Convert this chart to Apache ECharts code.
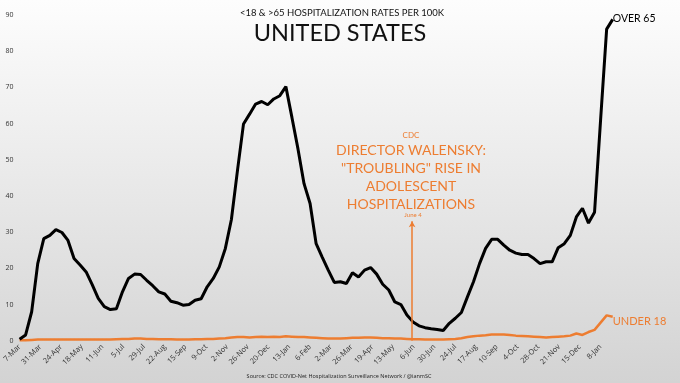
<!DOCTYPE html>
<html><head><meta charset="utf-8">
<script src="https://cdn.jsdelivr.net/npm/echarts@6/dist/echarts.min.js"></script>
<style>html,body{margin:0;padding:0;background:#fff;}#c{width:680px;height:383px;}</style>
</head><body><div id="c"></div>
<script>
// Weekly rates per 100K, weeks ending Saturday, starting 7-Mar-2020
const weekDays = 7;
const over65 = [
  0.4, 1.6, 8.0, 21.3, 28.2, 29.1, 30.7, 29.9, 27.7, 22.7,
  20.9, 19.0, 15.5, 11.7, 9.4, 8.6, 8.8, 13.5, 17.2, 18.4,
  18.3, 16.7, 15.2, 13.5, 12.9, 10.9, 10.5, 9.8, 10.0, 11.2,
  11.6, 14.9, 17.2, 20.4, 25.5, 33.5, 47.0, 59.9, 62.6, 65.4,
  66.1, 65.2, 66.8, 67.7, 70.2, 61.7, 53.0, 43.4, 37.9, 26.8,
  23.1, 19.5, 16.1, 16.3, 15.8, 18.8, 17.6, 19.5, 20.2, 18.4,
  15.6, 14.0, 10.7, 10.0, 7.1, 5.2, 4.1, 3.6, 3.3, 3.1,
  2.8, 4.8, 6.2, 7.8, 12.1, 16.3, 21.3, 25.5, 28.0, 28.0,
  26.4, 25.0, 24.2, 23.8, 23.8, 22.7, 21.3, 21.8, 21.8, 25.7,
  26.8, 29.1, 34.2, 36.6, 32.5, 35.5, 61.0, 86.1, 88.8
];
const under18 = [
  0.1, 0.1, 0.2, 0.3, 0.3, 0.3, 0.3, 0.3, 0.3, 0.3,
  0.3, 0.3, 0.3, 0.3, 0.3, 0.3, 0.4, 0.5, 0.5, 0.6,
  0.6, 0.5, 0.5, 0.4, 0.4, 0.4, 0.3, 0.3, 0.3, 0.4,
  0.4, 0.5, 0.5, 0.6, 0.7, 0.9, 1.0, 1.0, 0.9, 1.0,
  1.1, 1.0, 1.1, 1.0, 1.2, 1.1, 1.0, 1.0, 0.9, 0.8,
  0.7, 0.6, 0.6, 0.6, 0.7, 0.8, 0.8, 0.9, 0.9, 0.8,
  0.7, 0.7, 0.6, 0.6, 0.5, 0.4, 0.4, 0.3, 0.3, 0.3,
  0.3, 0.4, 0.5, 0.7, 1.0, 1.2, 1.4, 1.5, 1.7, 1.7,
  1.7, 1.6, 1.4, 1.3, 1.2, 1.1, 1.0, 0.9, 1.0, 1.1,
  1.2, 1.4, 2.0, 1.6, 2.4, 3.0, 5.0, 7.0, 6.6
];
// x-axis tick labels, every 24 days from 7-Mar-2020
const labelStep = 24;
const tickLabels = ['7-Mar','31-Mar','24-Apr','18-May','11-Jun','5-Jul','29-Jul','22-Aug','15-Sep','9-Oct',
  '2-Nov','26-Nov','20-Dec','13-Jan','6-Feb','2-Mar','26-Mar','19-Apr','13-May','6-Jun',
  '30-Jun','24-Jul','17-Aug','10-Sep','4-Oct','28-Oct','21-Nov','15-Dec','8-Jan'];
const yTicks = [0,10,20,30,40,50,60,70,80,90];
// Annotation: June 4, 2021 (day 454 from 7-Mar-2020)
const annotationDay = 454;
const annotationTop = 33;

const ORANGE = '#ED7D31';
const chart = echarts.init(document.getElementById('c'));
const xMax = (over65.length - 1) * weekDays;

chart.setOption({
  animation: false,
  backgroundColor: {type:'linear', x:0, y:0, x2:0, y2:1,
    colorStops:[{offset:0,color:'#fdfdfd'},{offset:1,color:'#d3d3d3'}]},
  grid: {left: 19.3, right: 67.3, top: 15, bottom: 42.3, containLabel: false},
  xAxis: {
    type: 'value', min: 0, max: xMax, interval: labelStep,
    axisLine: {show:false}, axisTick: {show:false}, splitLine: {show:false},
    axisLabel: {
      rotate: 45, fontSize: 7.5, color: '#333', margin: 5, showMaxLabel: false,
      fontFamily: 'Open Sans',
      formatter: v => { const k = Math.round(v / labelStep); return (v % labelStep === 0 && tickLabels[k]) ? tickLabels[k] : ''; }
    }
  },
  yAxis: {
    type: 'value', min: yTicks[0], max: yTicks[yTicks.length-1], interval: 10,
    axisLine: {show:false}, axisTick: {show:false}, splitLine: {show:false},
    axisLabel: {fontSize: 7, color: '#333', margin: 6, fontFamily: 'Open Sans'}
  },
  series: [
    {
      type: 'line', data: under18.map((v,i) => [i*weekDays, v]), showSymbol: false, symbol: 'none',
      lineStyle: {color: ORANGE, width: 2.5}, z: 2,
      endLabel: {show: true, formatter: 'UNDER 18', color: ORANGE, fontSize: 11, fontFamily: 'Lato', distance: 0, offset: [0, 5]},
      markLine: {
        silent: true, symbol: ['none', 'arrow'], symbolSize: [5, 6],
        lineStyle: {color: ORANGE, width: 1.5, type: 'solid'},
        label: {show: false},
        data: [[{coord: [annotationDay, 0]}, {coord: [annotationDay, annotationTop]}]]
      }
    },
    {
      type: 'line', data: over65.map((v,i) => [i*weekDays, v]), showSymbol: false, symbol: 'none',
      lineStyle: {color: '#000', width: 3}, z: 3,
      endLabel: {show: true, formatter: 'OVER 65', color: '#000', fontSize: 10.5, fontFamily: 'Lato', distance: 0, offset: [0, -1]}
    }
  ],
  graphic: [
    {type:'text', x: 342, y: 12.5, style:{text:'<18 & >65 HOSPITALIZATION RATES PER 100K', fontSize: 9.5, fill:'#111', fontFamily:'Lato', align:'center', verticalAlign:'middle'}},
    {type:'text', x: 340, y: 33, style:{text:'UNITED STATES', fontSize: 23.5, fill:'#111', fontFamily:'Lato', align:'center', verticalAlign:'middle'}},
    {type:'text', x: 411, y: 135, style:{text:'CDC', fontSize: 8, fill: ORANGE, fontFamily:'Lato', align:'center', verticalAlign:'middle'}},
    {type:'text', x: 411, y: 150, style:{text:'DIRECTOR WALENSKY:', fontSize: 14, fill: ORANGE, fontFamily:'Lato', align:'center', verticalAlign:'middle'}},
    {type:'text', x: 411, y: 168, style:{text:'"TROUBLING" RISE IN', fontSize: 14, fill: ORANGE, fontFamily:'Lato', align:'center', verticalAlign:'middle'}},
    {type:'text', x: 411, y: 186, style:{text:'ADOLESCENT', fontSize: 14, fill: ORANGE, fontFamily:'Lato', align:'center', verticalAlign:'middle'}},
    {type:'text', x: 411, y: 204, style:{text:'HOSPITALIZATIONS', fontSize: 14, fill: ORANGE, fontFamily:'Lato', align:'center', verticalAlign:'middle'}},
    {type:'text', x: 413, y: 215.5, style:{text:'June 4', fontSize: 6, fill: ORANGE, fontFamily:'Lato', align:'center', verticalAlign:'middle'}},
    {type:'text', x: 339, y: 376, style:{text:'Source: CDC COVID-Net Hospitalization Surveillance Network / @ianmSC', fontSize: 5.5, fill:'#222', fontFamily:'Open Sans', align:'center', verticalAlign:'middle'}}
  ]
});
</script>
</body></html>
